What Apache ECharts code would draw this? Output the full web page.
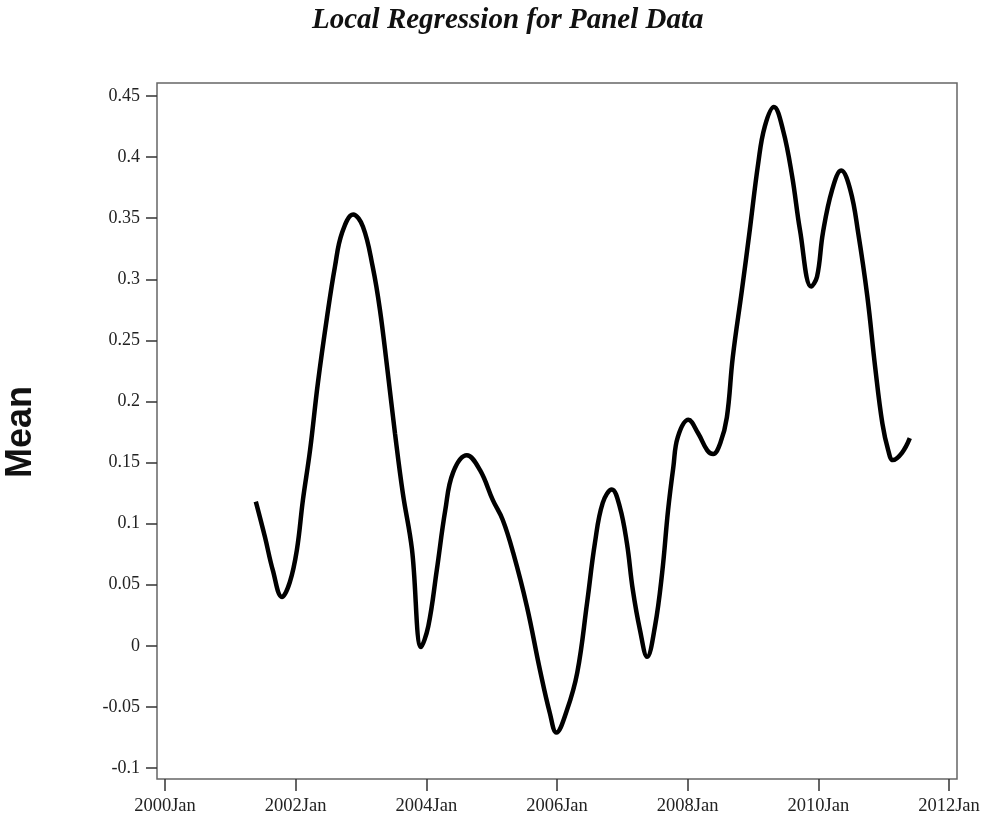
<!DOCTYPE html>
<html>
<head>
<meta charset="utf-8">
<script src="https://cdn.jsdelivr.net/npm/echarts@6/dist/echarts.min.js"></script>
<style>
html,body{margin:0;padding:0;background:#fff;}
#chart{width:982px;height:821px;}
</style>
</head>
<body>
<div id="chart"></div>
<script>
var titleText = 'Local Regression for Panel Data';
var yName = 'Mean';
var xTicks = [2000, 2002, 2004, 2006, 2008, 2010, 2012];
var years = [2001.39, 2001.53, 2001.65, 2001.79, 2001.91, 2002.02, 2002.11, 2002.22, 2002.34, 2002.48, 2002.60, 2002.71, 2002.88, 2003.03, 2003.18, 2003.29, 2003.40, 2003.52, 2003.64, 2003.78, 2003.92, 2004.03, 2004.16, 2004.29, 2004.41, 2004.62, 2004.82, 2005.02, 2005.17, 2005.33, 2005.54, 2005.74, 2005.89, 2005.99, 2006.15, 2006.31, 2006.46, 2006.58, 2006.70, 2006.84, 2006.96, 2007.07, 2007.16, 2007.27, 2007.38, 2007.50, 2007.61, 2007.70, 2007.78, 2007.85, 2008.01, 2008.16, 2008.30, 2008.39, 2008.50, 2008.60, 2008.69, 2008.83, 2008.95, 2009.08, 2009.18, 2009.32, 2009.46, 2009.60, 2009.72, 2009.89, 2009.98, 2010.07, 2010.21, 2010.35, 2010.49, 2010.61, 2010.75, 2010.87, 2010.98, 2011.07, 2011.14, 2011.28, 2011.40];
var means = [0.118, 0.089, 0.062, 0.040, 0.052, 0.079, 0.119, 0.160, 0.215, 0.269, 0.310, 0.338, 0.353, 0.343, 0.310, 0.275, 0.228, 0.174, 0.125, 0.079, -0.001, 0.016, 0.062, 0.111, 0.142, 0.156, 0.144, 0.119, 0.103, 0.076, 0.032, -0.020, -0.055, -0.071, -0.053, -0.022, 0.035, 0.084, 0.117, 0.128, 0.114, 0.084, 0.046, 0.013, -0.009, 0.016, 0.060, 0.111, 0.146, 0.171, 0.185, 0.174, 0.160, 0.157, 0.166, 0.187, 0.236, 0.291, 0.340, 0.395, 0.425, 0.441, 0.422, 0.384, 0.340, 0.294, 0.302, 0.338, 0.373, 0.389, 0.373, 0.338, 0.286, 0.228, 0.182, 0.160, 0.152, 0.158, 0.170];

var data = years.map(function (y, i) { return [y, means[i]]; });

var chart = echarts.init(document.getElementById('chart'));
chart.setOption({
  animation: false,
  backgroundColor: '#fff',
  title: {
    text: titleText,
    left: 307,
    top: 1,
    textStyle: {
      fontFamily: 'Liberation Serif',
      fontStyle: 'italic',
      fontWeight: 'bold',
      fontSize: 29,
      color: '#111'
    }
  },
  grid: [
    {left: 157, top: 83, width: 800, height: 696, show: true, borderColor: '#666', borderWidth: 1.5, backgroundColor: 'transparent', outerBoundsMode: 'none', containLabel: false},
    {left: 165, top: 96, width: 784, height: 672, show: false, outerBoundsMode: 'none', containLabel: false}
  ],
  xAxis: [
    {gridIndex: 0, type: 'value', show: false, min: 0, max: 1},
    {
      gridIndex: 1, type: 'value', min: 2000, max: 2012, interval: 2, offset: 11,
      position: 'bottom',
      axisLine: {show: false, onZero: false},
      axisTick: {show: true, inside: false, length: 12, lineStyle: {color: '#333', width: 1.5}},
      splitLine: {show: false},
      axisLabel: {
        margin: 18,
        fontFamily: 'Liberation Serif', fontSize: 18.5, color: '#222',
        formatter: function (v) { return v + 'Jan'; }
      }
    }
  ],
  yAxis: [
    {gridIndex: 0, type: 'value', show: false, min: 0, max: 1},
    {
      gridIndex: 1, type: 'value', min: -0.1, max: 0.45, interval: 0.05, offset: 8,
      position: 'left',
      axisLine: {show: false, onZero: false},
      axisTick: {show: true, inside: false, length: 11, lineStyle: {color: '#333', width: 1.5}},
      splitLine: {show: false},
      axisLabel: {
        margin: 17,
        fontFamily: 'Liberation Serif', fontSize: 18, color: '#222',
        formatter: function (v) { return String(+v.toFixed(2)); }
      },
      name: yName,
      nameLocation: 'middle',
      nameRotate: 90,
      nameGap: 118,
      nameTextStyle: {fontFamily: 'Liberation Sans', fontWeight: 'bold', fontSize: 36, color: '#111'}
    }
  ],
  series: [{
    type: 'line',
    xAxisIndex: 1,
    yAxisIndex: 1,
    data: data,
    smooth: 0.4,
    showSymbol: false,
    lineStyle: {color: '#000', width: 4.5},
    clip: false
  }]
});
</script>
</body>
</html>
